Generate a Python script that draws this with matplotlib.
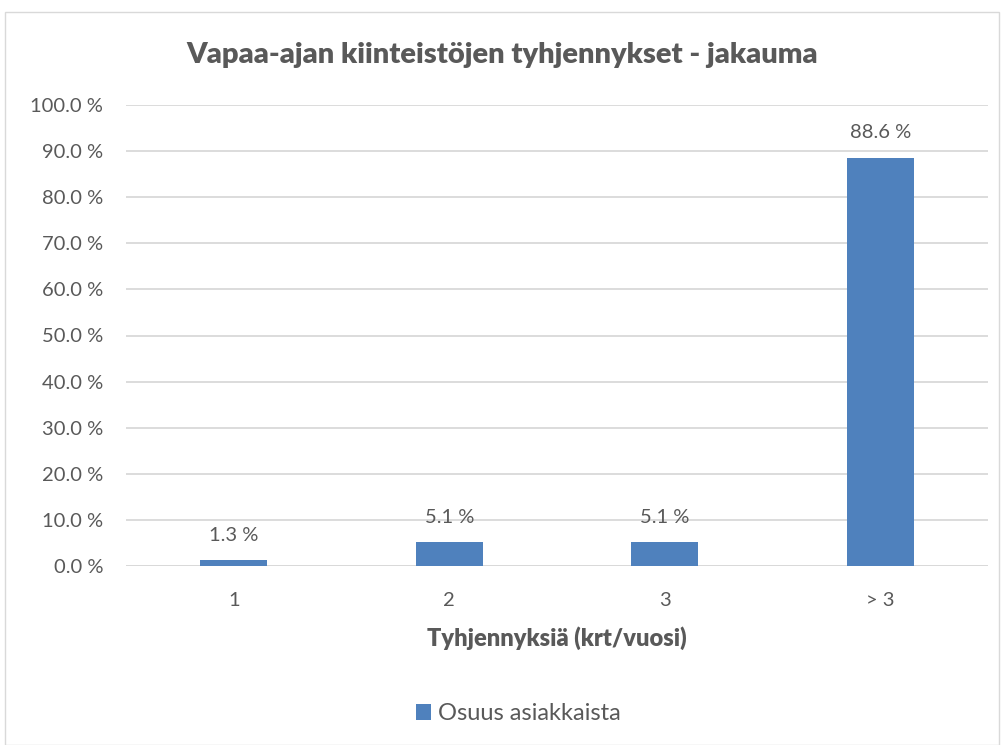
import matplotlib
matplotlib.use("Agg")
import matplotlib.pyplot as plt
from matplotlib.patches import Rectangle

categories = ["1", "2", "3", "> 3"]
values = [1.3, 5.1, 5.1, 88.6]
series_name = "Osuus asiakkaista"
title = "Vapaa-ajan kiinteistöjen tyhjennykset - jakauma"
xlabel = "Tyhjennyksiä (krt/vuosi)"
yticks = [0, 10, 20, 30, 40, 50, 60, 70, 80, 90, 100]

plt.rcParams['font.family'] = ['Lato', 'DejaVu Sans']
text_color = "#595959"
bar_color = "#4F81BD"
grid_color = "#D9D9D9"

fig = plt.figure(figsize=(10.05, 7.45), dpi=100)
fig.patches.append(Rectangle((5/1005, 0), 994/1005, (745-12)/745, transform=fig.transFigure,
                             fill=False, edgecolor="#D9D9D9", linewidth=1))
ax = fig.add_axes([126/1005, 1-566/745, 862/1005, 461/745])

x = range(len(categories))
bars = ax.bar(x, values, width=0.31, color=bar_color, label=series_name, zorder=3)
for xi, v in zip(x, values):
    ax.annotate(f"{v:.1f} %", (xi, v), xytext=(0, 18), textcoords="offset points",
                ha="center", va="center", fontsize=14.5, color=text_color)

ax.set_ylim(0, 100)
ax.set_xlim(-0.5, len(categories) - 0.5)
ax.set_yticks(yticks)
ax.set_yticklabels([f"{t:.1f} %" for t in yticks])
ax.set_xticks(list(x))
ax.set_xticklabels(categories)
ax.tick_params(axis="both", length=0, labelsize=14.5, colors=text_color)
ax.tick_params(axis="y", pad=16.5)
ax.tick_params(axis="x", pad=19)
ax.grid(axis="y", color=grid_color, linewidth=1.3, zorder=0)
for s in ax.spines.values():
    s.set_visible(False)
ax.axhline(0, color=grid_color, linewidth=1.3, zorder=1)

ax.set_xlabel(xlabel, fontsize=17, fontweight="heavy", color=text_color, labelpad=12)
fig.text(0.5, 1-55/745, title, ha="center", va="center", fontsize=21, fontweight="heavy", color=text_color)

leg = fig.legend(handles=[bars], labels=[series_name], loc="center", bbox_to_anchor=(518/1005, 1-714/745),
                 frameon=False, fontsize=17, handlelength=0.63, handleheight=0.63, handletextpad=0.3)
for t in leg.get_texts():
    t.set_color(text_color)

fig.savefig("out.png", dpi=100, facecolor="white")
